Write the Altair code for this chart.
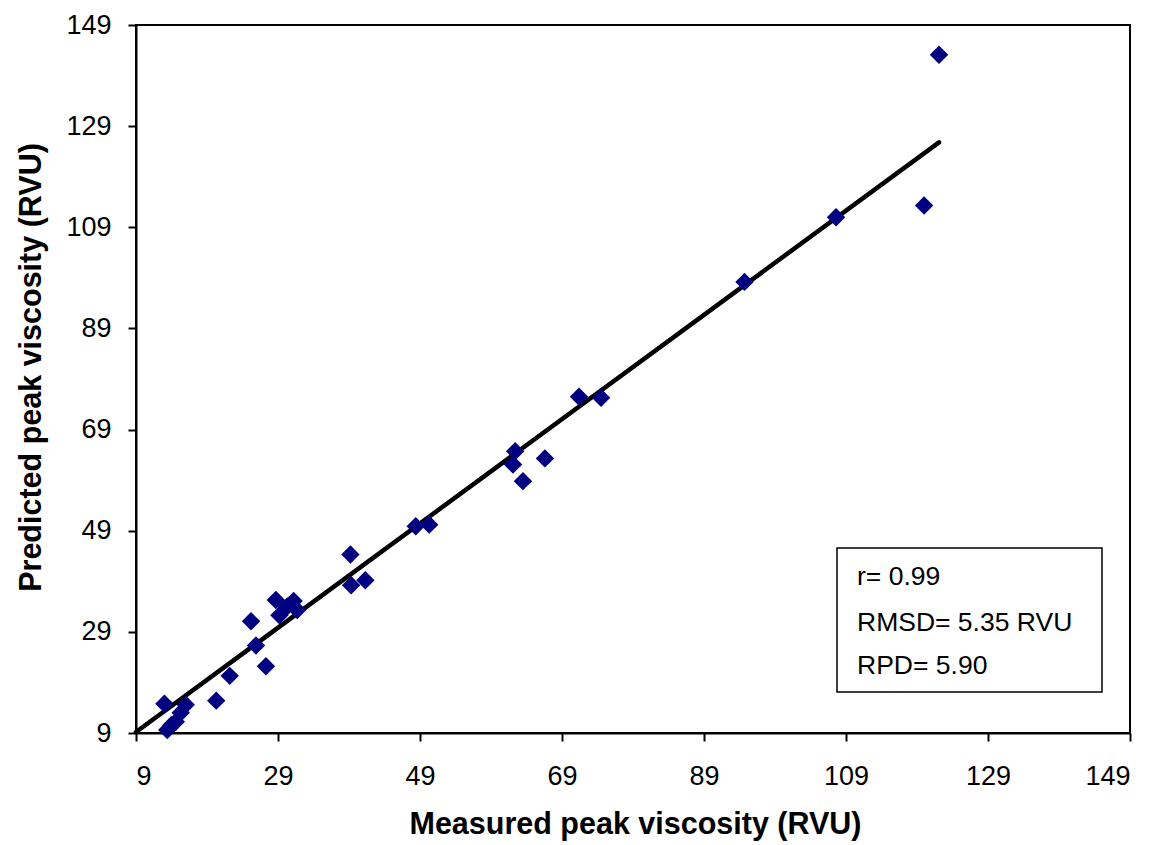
import altair as alt
import pandas as pd

# Measured vs predicted peak viscosity (RVU)
measured = [122.1, 120.0, 107.6, 94.7, 71.4, 74.5, 62.4, 62.1, 66.6, 63.5,
            48.4, 50.3, 39.2, 39.3, 41.3, 25.2, 25.9, 27.3, 22.2, 20.3,
            28.7, 31.2, 29.2, 31.7, 30.3,
            13.0, 16.0, 15.3, 14.6, 13.4, 14.0]
predicted = [143.1, 113.3, 111.0, 98.2, 75.5, 75.3, 64.7, 62.1, 63.3, 58.8,
             49.9, 50.2, 44.3, 38.2, 39.2, 31.1, 26.3, 22.2, 20.3, 15.4,
             35.3, 35.1, 32.3, 33.3, 34.0,
             14.8, 14.6, 13.0, 11.2, 9.6, 10.6]

# Fitted regression line endpoints
line_x = [9.0, 122.1]
line_y = [9.2, 125.8]

ticks = [9, 29, 49, 69, 89, 109, 129, 149]
stats_text = ["r= 0.99", "RMSD= 5.35 RVU", "RPD= 5.90"]

pts = pd.DataFrame({"Measured": measured, "Predicted": predicted})
fit = pd.DataFrame({"Measured": line_x, "Predicted": line_y})

W, H = 994, 708
FONT = "Liberation Sans"

xscale = alt.Scale(domain=[9, 149], nice=False, zero=False)
yscale = alt.Scale(domain=[9, 149], nice=False, zero=False)

xaxis = alt.Axis(values=ticks, title="Measured peak viscosity (RVU)",
                 titleX=499, titleY=100, titleBaseline="alphabetic",
                 labelPadding=22)
yaxis = alt.Axis(values=ticks, title="Predicted peak viscosity (RVU)",
                 titleX=-96, titleY=342, titleAngle=-90, titleBaseline="alphabetic",
                 titleAlign="center", labelPadding=17)

points = alt.Chart(pts).mark_point(
    shape="diamond", filled=True, color="#000080", size=340, opacity=1
).encode(
    x=alt.X("Measured:Q", scale=xscale, axis=xaxis),
    y=alt.Y("Predicted:Q", scale=yscale, axis=yaxis),
)

line = alt.Chart(fit).mark_line(color="black", strokeWidth=4.5, strokeCap="round").encode(
    x=alt.X("Measured:Q", scale=xscale),
    y=alt.Y("Predicted:Q", scale=yscale),
)

box = alt.Chart(pd.DataFrame({"a": [0]})).mark_rect(
    fill="white", stroke="black", strokeWidth=1.5
).encode(
    x=alt.value(701), x2=alt.value(966), y=alt.value(523), y2=alt.value(667)
)

txt_df = pd.DataFrame({"t": stats_text, "yy": [560, 606, 649]})
texts = alt.Chart(txt_df).mark_text(
    align="left", baseline="alphabetic", font=FONT, fontSize=26.5, color="black"
).encode(
    x=alt.value(721), y=alt.Y("yy:Q", scale=None), text="t:N"
)

chart = alt.layer(line, points, box, texts).properties(
    width=W, height=H,
    autosize=alt.AutoSizeParams(type="none"),
    padding={"left": 136, "top": 25, "right": 29, "bottom": 112},
    background="white",
).configure_view(
    stroke="black", strokeWidth=2
).configure_axis(
    grid=False, domainColor="black", domainWidth=2, tickColor="black",
    tickWidth=2, tickSize=8, labelFont=FONT, labelFontSize=27, labelColor="black",
    titleFont=FONT, titleFontSize=30.5, titleFontWeight="bold", titleColor="black",
)

chart.save("out.html", embed_options={"renderer": "svg", "actions": False})
